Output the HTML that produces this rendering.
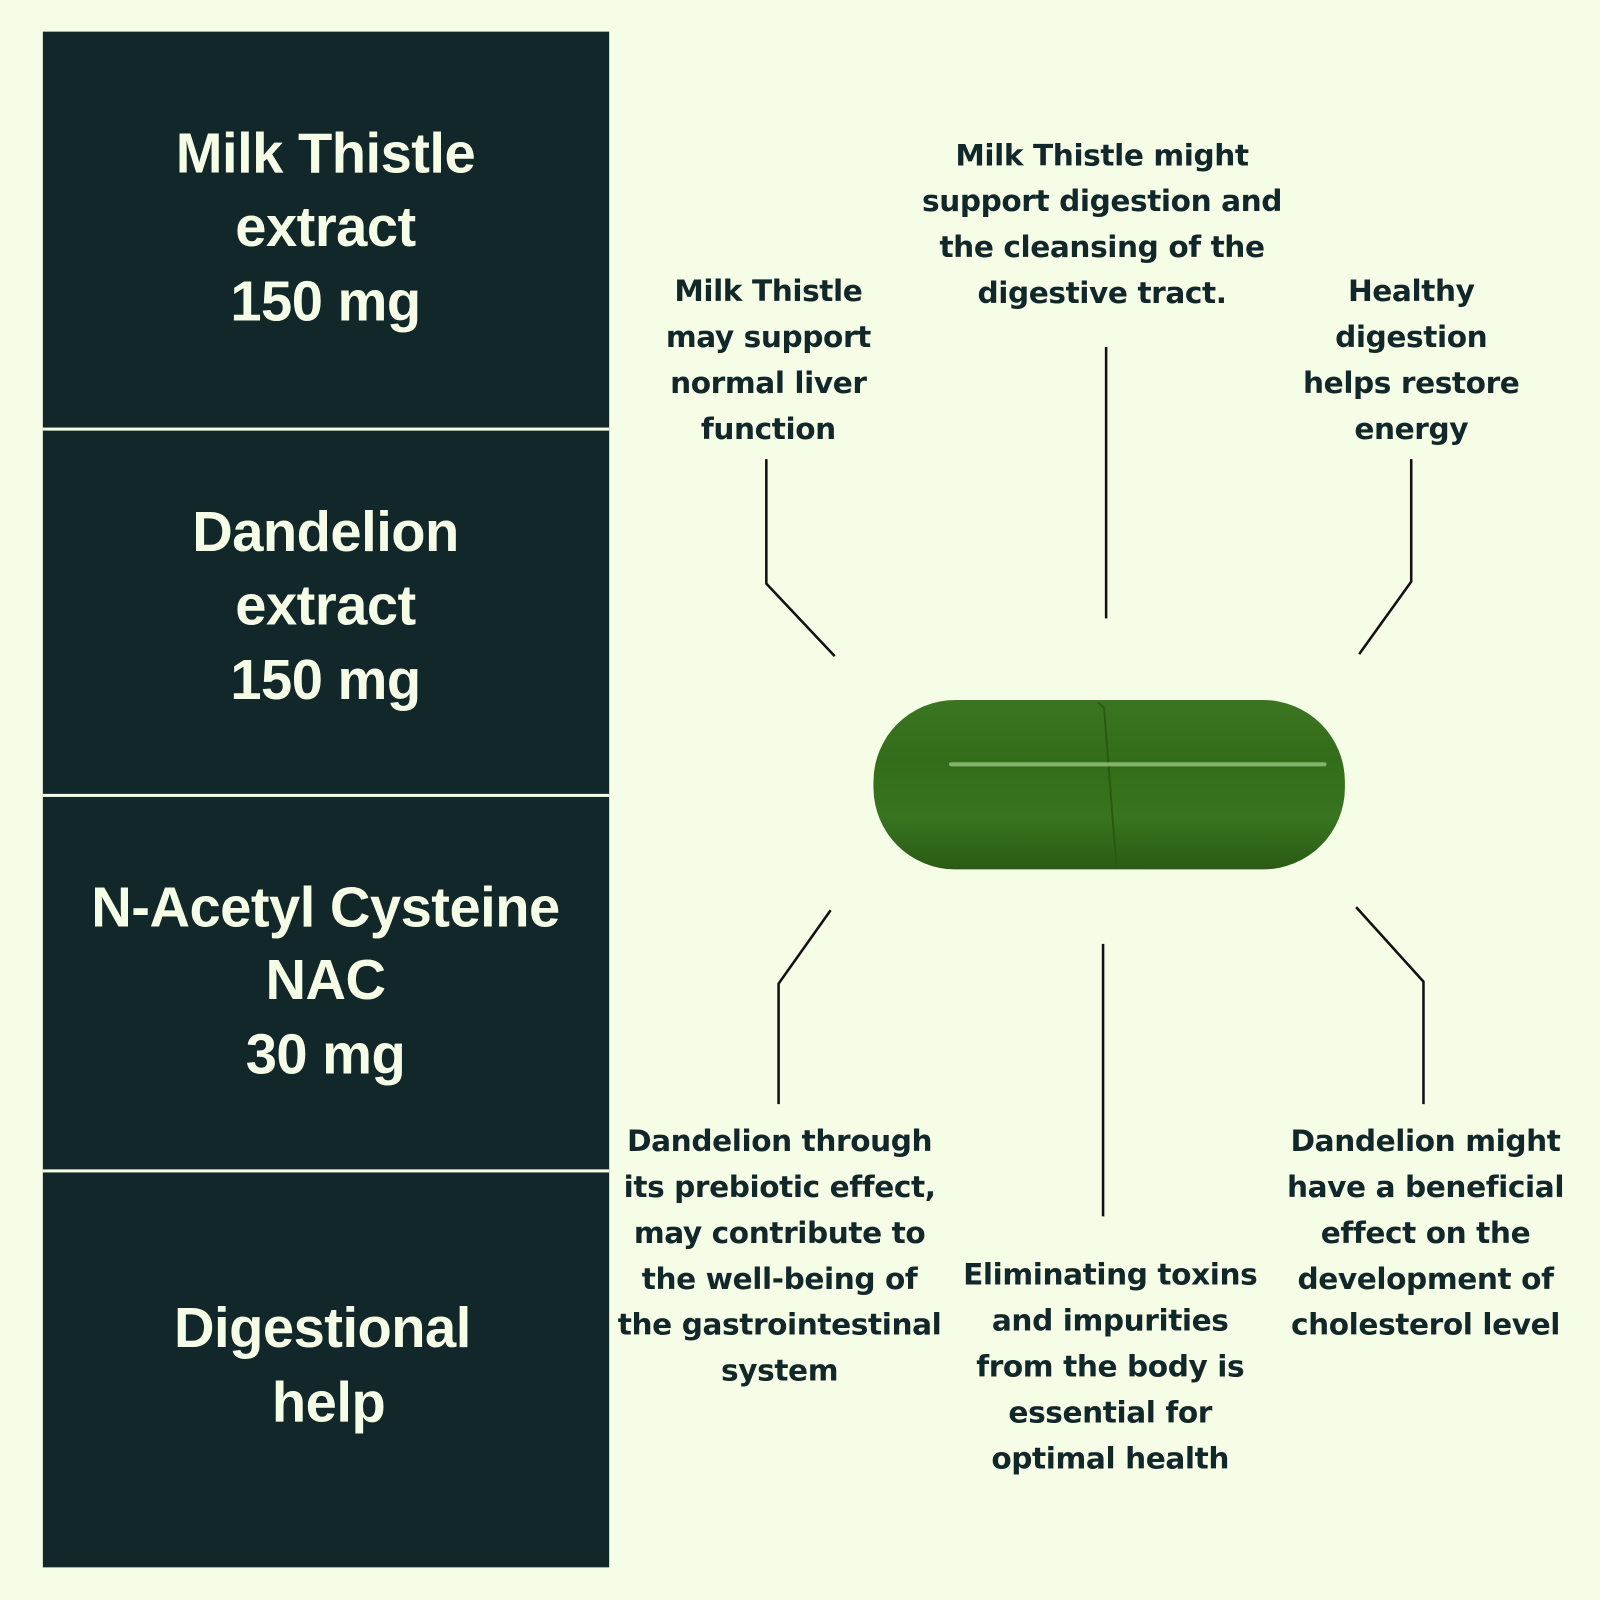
<!DOCTYPE html>
<html><head><meta charset="utf-8"><style>
html,body{margin:0;padding:0;background:#f6fde6;}
svg{display:block}
.h{font-family:"Liberation Sans",sans-serif;font-weight:bold;font-size:55px;fill:#f6fde6;text-anchor:middle;letter-spacing:-0.5px}
.t{font-family:"DejaVu Sans","Liberation Sans",sans-serif;font-weight:bold;font-size:29px;fill:#12272a;text-anchor:middle;letter-spacing:-0.4px}
</style></head><body>
<svg width="1600" height="1600" viewBox="0 0 1568 1568" xmlns="http://www.w3.org/2000/svg">
<defs>
<linearGradient id="g" x1="0" y1="0" x2="0" y2="1">
<stop offset="0" stop-color="#3b7521"/><stop offset="0.35" stop-color="#336d19"/><stop offset="0.7" stop-color="#38741f"/><stop offset="1" stop-color="#2a5b14"/>
</linearGradient>
</defs>
<rect width="1568" height="1568" fill="#f6fde6"/>
<rect x="42" y="31" width="555" height="1505" fill="#12272a"/>
<rect x="42" y="419" width="555" height="3" fill="#f6fde6"/>
<rect x="42" y="778" width="555" height="3" fill="#f6fde6"/>
<rect x="42" y="1146" width="555" height="3" fill="#f6fde6"/>
<text class="h" x="319" y="169">Milk Thistle</text>
<text class="h" x="319" y="241">extract</text>
<text class="h" x="319" y="314">150 mg</text>
<text class="h" x="319" y="540">Dandelion</text>
<text class="h" x="319" y="612">extract</text>
<text class="h" x="319" y="685">150 mg</text>
<text class="h" x="319" y="908">N-Acetyl Cysteine</text>
<text class="h" x="319" y="979">NAC</text>
<text class="h" x="319" y="1052">30 mg</text>
<text class="h" x="316" y="1320">Digestional</text>
<text class="h" x="322" y="1393">help</text>

<text class="t" x="753" y="295">Milk Thistle</text>
<text class="t" x="753" y="340">may support</text>
<text class="t" x="753" y="385">normal liver</text>
<text class="t" x="753" y="430">function</text>
<text class="t" x="1080" y="162">Milk Thistle might</text>
<text class="t" x="1080" y="207">support digestion and</text>
<text class="t" x="1080" y="252">the cleansing of the</text>
<text class="t" x="1080" y="297">digestive tract.</text>
<text class="t" x="1383" y="295">Healthy</text>
<text class="t" x="1383" y="340">digestion</text>
<text class="t" x="1383" y="385">helps restore</text>
<text class="t" x="1383" y="430">energy</text>
<text class="t" x="764" y="1128">Dandelion through</text>
<text class="t" x="764" y="1173">its prebiotic effect,</text>
<text class="t" x="764" y="1218">may contribute to</text>
<text class="t" x="764" y="1263">the well-being of</text>
<text class="t" x="764" y="1308">the gastrointestinal</text>
<text class="t" x="764" y="1353">system</text>
<text class="t" x="1088" y="1259">Eliminating toxins</text>
<text class="t" x="1088" y="1304">and impurities</text>
<text class="t" x="1088" y="1349">from the body is</text>
<text class="t" x="1088" y="1394">essential for</text>
<text class="t" x="1088" y="1439">optimal health</text>
<text class="t" x="1397" y="1128">Dandelion might</text>
<text class="t" x="1397" y="1173">have a beneficial</text>
<text class="t" x="1397" y="1218">effect on the</text>
<text class="t" x="1397" y="1263">development of</text>
<text class="t" x="1397" y="1308">cholesterol level</text>

<g fill="none" stroke="#111" stroke-width="2.5">
<polyline points="751,450 751,572 818,643"/>
<polyline points="1084,340 1084,606"/>
<polyline points="1383,450 1383,570 1332,641"/>
<polyline points="814,892 763,964 763,1082"/>
<polyline points="1081,925 1081,1192"/>
<polyline points="1329,889 1395,962 1395,1082"/>
</g>

<rect x="856" y="686" width="462" height="166" rx="80" fill="url(#g)"/>
<path d="M1076 688 L1082 694 L1094 848" stroke="#2a5a12" stroke-width="2" fill="none"/>
<rect x="930" y="747" width="370" height="4" rx="2" fill="#a8d090" opacity="0.7"/>
</svg>
</body></html>
